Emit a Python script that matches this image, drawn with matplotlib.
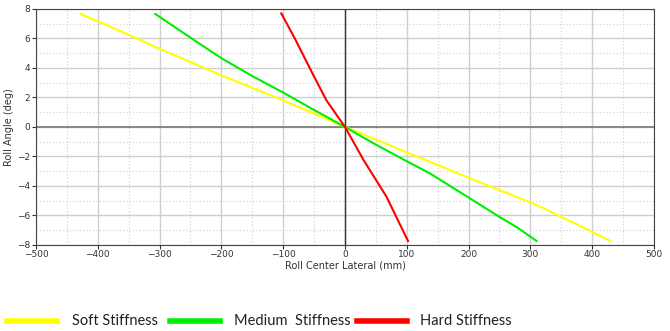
import matplotlib
matplotlib.use("Agg")
import matplotlib.pyplot as plt
from matplotlib.lines import Line2D
from matplotlib.ticker import MultipleLocator

soft_x = [-428, -380, -300, -200, -100, -50, 0, 50, 101, 202, 310, 380, 429]
soft_y = [7.66, 6.8, 5.3, 3.5, 1.8, 0.9, 0.0, -0.85, -1.74, -3.48, -5.29, -6.7, -7.73]
med_x = [-307, -250, -200, -150, -100, -50, 0, 50, 101, 137, 202, 250, 278, 310]
med_y = [7.66, 6.05, 4.66, 3.45, 2.33, 1.15, 0.0, -1.2, -2.35, -3.14, -4.84, -6.1, -6.8, -7.73]
hard_x = [-103, -80, -51, -30, 0, 30, 67, 102]
hard_y = [7.7, 5.9, 3.5, 1.8, 0.0, -2.24, -4.72, -7.73]

series = [("Soft Stiffness", soft_x, soft_y, "#ffff00"),
          ("Medium  Stiffness", med_x, med_y, "#00ee00"),
          ("Hard Stiffness", hard_x, hard_y, "#ff0000")]

fig = plt.figure(figsize=(6.7, 3.31), dpi=100)
ax = fig.add_axes([0.0537, 0.26, 0.9224, 0.713])
ax.set_xlim(-500, 500)
ax.set_ylim(-8, 8)
ax.xaxis.set_major_locator(MultipleLocator(100))
ax.yaxis.set_major_locator(MultipleLocator(2))
ax.xaxis.set_minor_locator(MultipleLocator(50))
ax.yaxis.set_minor_locator(MultipleLocator(1))
ax.grid(which="major", color="#cfcfcf", lw=1.0)
ax.grid(which="minor", color="#cfcfcf", lw=0.8, ls=(0, (1, 2)))
ax.set_axisbelow(True)
ax.axhline(0, color="#777777", lw=1.2, zorder=1)
ax.axvline(0, color="#333333", lw=1.0, zorder=1)
for s in ax.spines.values():
    s.set_color("#444444")
ax.tick_params(which="major", labelsize=6.5, length=3, direction="out", colors="#333333", pad=1)
ax.tick_params(which="minor", length=0)
ax.set_xlabel("Roll Center Lateral (mm)", fontsize=7, labelpad=1, color="#333333")
ax.set_ylabel("Roll Angle (deg)", fontsize=7, labelpad=2, color="#333333")

for name, x, y, c in series:
    ax.plot(x, y, color=c, lw=1.5, zorder=3)

# legend drawn below the chart
leg_pos = [(7, 72), (170, 234), (357, 420)]
ly = 1 - 321 / 331
for (name, x, y, c), (lx, tx) in zip(series, leg_pos):
    fig.add_artist(Line2D([lx / 670, (lx + 50) / 670], [ly, ly], color=c, lw=4,
                          transform=fig.transFigure))
    fig.text(tx / 670, ly, name, fontsize=10.5, family="Lato", va="center",
             ha="left", color="#222222")

fig.savefig("out.png", dpi=100)
